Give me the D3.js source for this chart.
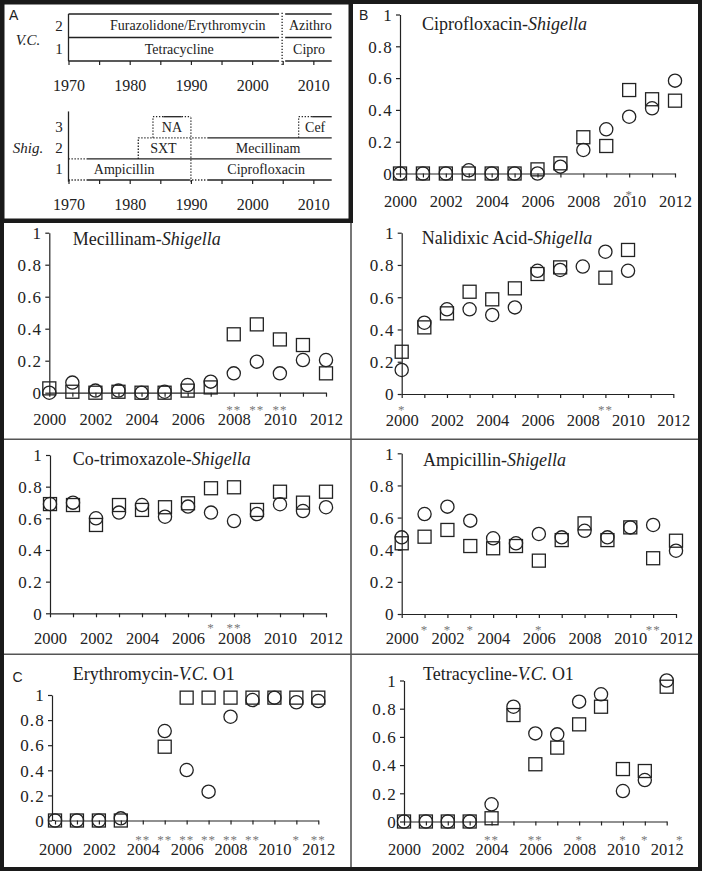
<!DOCTYPE html>
<html>
<head>
  <meta charset="utf-8">
  <script src="https://d3js.org/d3.v7.min.js"></script>
  <style>
    body { margin: 0; background: #fff; }
    svg text { font-family: "Liberation Serif", "Times New Roman", serif; fill: #222; }
    .letter { font-family: "Liberation Sans", Arial, sans-serif !important; font-size: 14px; }
  </style>
</head>
<body>
<svg width="702" height="871"></svg>
<script>
  // ---- data ----
  const years = [2000, 2001, 2002, 2003, 2004, 2005, 2006, 2007, 2008, 2009, 2010, 2011, 2012];
  const yTicks = [0, 0.2, 0.4, 0.6, 0.8, 1];

  // squares / circles per year (null = not plotted)
  const ciproSq = [0, 0, 0, 0, 0, 0, 0.026, 0.064, 0.228, 0.173, 0.525, 0.467, 0.458];
  const ciproCi = [0, 0, 0, 0.02, 0, 0, 0, 0.043, 0.148, 0.278, 0.357, 0.41, 0.584];
  const ciproStars = [[2010, "*"]];

  const mecSq = [0.027, 0.006, 0, 0.006, 0, 0, 0.013, 0.033, 0.365, 0.427, 0.333, 0.298, 0.121];
  const mecCi = [0, 0.063, 0.013, 0.013, 0, 0.006, 0.048, 0.069, 0.121, 0.194, 0.121, 0.204, 0.204];
  const mecStars = [[2008, "**"], [2009, "**"], [2010, "**"]];

  const nalSq = [0.262, 0.413, 0.5, 0.634, 0.587, 0.655, 0.744, 0.785, null, 0.721, 0.893, null, null];
  const nalCi = [0.149, 0.442, 0.525, 0.525, 0.49, 0.537, 0.764, 0.769, 0.79, 0.882, 0.764, null, null];
  const nalStars = [[2000, "*"], [2009, "**"]];

  const cotSq = [0.69, 0.684, 0.558, 0.684, 0.653, 0.67, 0.695, 0.79, 0.796, 0.653, 0.768, 0.699, 0.768];
  const cotCi = [0.69, 0.699, 0.6, 0.636, 0.684, 0.61, 0.674, 0.636, 0.583, 0.627, 0.689, 0.646, 0.67];
  const cotStars = [[2007, "*"], [2008, "**"]];

  const ampSq = [0.44, 0.481, 0.523, 0.423, 0.409, 0.423, 0.332, 0.46, 0.564, 0.46, 0.539, 0.347, 0.456];
  const ampCi = [0.477, 0.622, 0.668, 0.581, 0.471, 0.44, 0.498, 0.477, 0.518, 0.477, 0.539, 0.554, 0.394];
  const ampStars = [[2001, "*"], [2002, "*"], [2003, "*"], [2006, "*"], [2011, "**"]];

  const erySq = [0, 0, 0, 0, null, 0.588, 0.979, 0.979, 0.979, 0.979, 0.979, 0.979, 0.979];
  const eryCi = [0, 0, 0, 0.017, null, 0.713, 0.402, 0.23, 0.827, 0.96, 0.979, 0.942, 0.952];
  const eryStars = [[2004, "**"], [2005, "**"], [2006, "**"], [2007, "**"], [2008, "**"], [2009, "**"], [2011, "*"], [2012, "**"]];

  const tetSq = [0, 0, 0, 0, 0.023, 0.755, 0.406, 0.524, 0.689, 0.814, 0.372, 0.358, 0.956];
  const tetCi = [0, 0, 0, 0, 0.122, 0.814, 0.625, 0.618, 0.85, 0.902, 0.216, 0.294, 1.0];
  const tetStars = [[2004, "**"], [2006, "**"], [2008, "*"], [2010, "*"], [2011, "*"], [2012.6, "*"]];

  // panel A timeline: rows of first-line drugs
  const timeTicks = [1970, 1975, 1980, 1985, 1990, 1995, 2000, 2005, 2010];
  const vcRows = [1, 2];
  const vcDrugs = [
    { label: "Furazolidone/Erythromycin", row: 2, at: 1989.5 },
    { label: "Azithro", row: 2, at: 2009.5 },
    { label: "Tetracycline", row: 1, at: 1988.1 },
    { label: "Cipro", row: 1, at: 2009.3 }
  ];
  // h: horizontal at row boundary, v: vertical at year between boundaries
  const vcLines = [
    ["h", 2, 1970, 2004.4, 0], ["h", 2, 2005.4, 2013, 0],
    ["h", 1, 1970, 2004.4, 0], ["h", 1, 2005.4, 2013, 0],
    ["h", 0, 1970, 2004.4, 0], ["h", 0, 2005.4, 2013, 0],
    ["v", 1970, 0, 2, 0],
    ["v", 2004.9, -0.17, 2.1, 1]
  ];
  const shigRows = [1, 2, 3];
  const shigDrugs = [
    { label: "NA", row: 3, at: 1986.9 },
    { label: "Cef", row: 3, at: 2010.3 },
    { label: "SXT", row: 2, at: 1985.5 },
    { label: "Mecillinam", row: 2, at: 2002.6 },
    { label: "Ampicillin", row: 1, at: 1979.1 },
    { label: "Ciprofloxacin", row: 1, at: 2002.3 }
  ];
  const shigLines = [
    ["h", 0, 1970, 1973, 1], ["h", 0, 1973, 1989.7, 0], ["h", 0, 1989.7, 1992.7, 1], ["h", 0, 1992.7, 2013, 0],
    ["h", 1, 1970, 1973, 1], ["h", 1, 1973, 2013, 0],
    ["h", 2, 1981.4, 1992.7, 1], ["h", 2, 1992.7, 2013, 0],
    ["h", 3, 1983.8, 1985.5, 1], ["h", 3, 1985.5, 1988.5, 0], ["h", 3, 1988.5, 1990, 1],
    ["h", 3, 2007.6, 2009.8, 1], ["h", 3, 2009.8, 2013, 0],
    ["v", 1970, -0.08, 3.25, 0],
    ["v", 1990, -0.08, 3, 1],
    ["v", 1981.4, 1, 2, 1],
    ["v", 1983.8, 2, 3, 1],
    ["v", 2007.6, 2, 3, 1]
  ];

  // ---- layout ----
  const panels = [
    { sq: ciproSq, ci: ciproCi, stars: ciproStars, title: ["Ciprofloxacin-", "Shigella", ""],
      x0: 400, x1: 675, yTop: 14.5, yBot: 173.5, titleX: 422, titleY: 30, labelY: 206.5, starY: 199 },
    { sq: mecSq, ci: mecCi, stars: mecStars, title: ["Mecillinam-", "Shigella", ""],
      x0: 49.3, x1: 326, yTop: 232.7, yBot: 392.7, titleX: 72.7, titleY: 245, labelY: 425, starY: 414 },
    { sq: nalSq, ci: nalCi, stars: nalStars, title: ["Nalidixic Acid-", "Shigella", ""],
      x0: 401.7, x1: 673.3, yTop: 232.7, yBot: 394, titleX: 421.7, titleY: 244, labelY: 426, starY: 413.6 },
    { sq: cotSq, ci: cotCi, stars: cotStars, title: ["Co-trimoxazole-", "Shigella", ""],
      x0: 50, x1: 326, yTop: 455, yBot: 613.3, titleX: 72.7, titleY: 465, labelY: 644, starY: 632 },
    { sq: ampSq, ci: ampCi, stars: ampStars, title: ["Ampicillin-", "Shigella", ""],
      x0: 401.7, x1: 676, yTop: 453.3, yBot: 614, titleX: 423, titleY: 466, labelY: 644, starY: 633.6 },
    { sq: erySq, ci: eryCi, stars: eryStars, title: ["Erythromycin-", "V.C.", " O1"],
      x0: 55, x1: 318.3, axisX: 52, yTop: 695, yBot: 820.5, titleX: 72.7, titleY: 680, labelY: 855, starY: 843.6 },
    { sq: tetSq, ci: tetCi, stars: tetStars, title: ["Tetracycline-", "V.C.", " O1"],
      x0: 404, x1: 666.7, yTop: 680.5, yBot: 821.5, titleX: 423, titleY: 680, labelY: 855, starY: 843.6 }
  ];

  const svg = d3.select("svg");
  const ink = "#222";

  // separators and frames
  svg.append("line").attr("x1", 351).attr("x2", 351).attr("y1", 221).attr("y2", 869)
    .attr("stroke", "#555").attr("stroke-width", 1.6);
  [439.3, 654.3].forEach(y => {
    svg.append("line").attr("x1", 2).attr("x2", 700).attr("y1", y).attr("y2", y)
      .attr("stroke", "#555").attr("stroke-width", 1.6);
  });
  svg.append("rect").attr("x", 2).attr("y", 2).attr("width", 698).attr("height", 867)
    .attr("fill", "none").attr("stroke", "#1a1a1a").attr("stroke-width", 4);
  svg.append("rect").attr("x", 2.25).attr("y", 2.25).attr("width", 348.5).attr("height", 218.5)
    .attr("fill", "none").attr("stroke", "#1a1a1a").attr("stroke-width", 4.5);

  svg.append("text").attr("class", "letter").attr("x", 9).attr("y", 20).text("A");
  svg.append("text").attr("class", "letter").attr("x", 359).attr("y", 19.5).text("B");
  svg.append("text").attr("class", "letter").attr("x", 12.5).attr("y", 681.5).text("C");

  // ---- scatter panels ----
  const tickFont = 16.5;
  panels.forEach(p => {
    const x = d3.scaleLinear().domain([2000, 2012]).range([p.x0, p.x1]);
    const y = d3.scaleLinear().domain([0, 1]).range([p.yBot, p.yTop]);
    const g = svg.append("g");
    const ax = p.axisX || p.x0;

    const xAxis = d3.axisBottom(x).tickValues(years).tickSize(4).tickSizeOuter(0)
      .tickPadding(p.labelY - p.yBot - 4 - 0.71 * tickFont)
      .tickFormat(d => d % 2 === 0 ? d : "");
    const gx = g.append("g").attr("transform", `translate(0,${p.yBot})`).call(xAxis);
    if (ax < p.x0) {
      g.append("line").attr("x1", ax).attr("x2", p.x0).attr("y1", p.yBot).attr("y2", p.yBot)
        .attr("stroke", ink).attr("stroke-width", 1.2);
    }

    const yAxis = d3.axisLeft(y).tickValues(yTicks).tickSize(4).tickSizeOuter(0).tickPadding(3)
      .tickFormat(d => d === 0 ? "0" : d === 1 ? "1" : d.toFixed(1));
    const gy = g.append("g").attr("transform", `translate(${ax},0)`).call(yAxis);

    [gx, gy].forEach(a => {
      a.selectAll("path, line").attr("stroke", ink).attr("stroke-width", 1.2);
      a.selectAll("text").attr("font-family", "Liberation Serif, serif")
        .attr("font-size", tickFont).attr("fill", ink);
    });
    gy.selectAll("text").attr("font-size", 17).attr("letter-spacing", 1.2).attr("dy", "0.34em");

    // title
    const t = g.append("text").attr("x", p.titleX).attr("y", p.titleY).attr("font-size", 18);
    t.append("tspan").text(p.title[0]);
    t.append("tspan").attr("font-style", "italic").text(p.title[1]);
    if (p.title[2]) t.append("tspan").text(p.title[2]);

    // squares then circles
    const sqData = years.map((yr, i) => [yr, p.sq[i]]).filter(d => d[1] != null);
    const ciData = years.map((yr, i) => [yr, p.ci[i]]).filter(d => d[1] != null);
    const side = 13;
    g.selectAll("rect.sq").data(sqData).join("rect").attr("class", "sq")
      .attr("x", d => x(d[0]) - side / 2).attr("y", d => y(d[1]) - side / 2)
      .attr("width", side).attr("height", side)
      .attr("fill", "none").attr("stroke", ink).attr("stroke-width", 1.3);
    g.selectAll("circle.ci").data(ciData).join("circle").attr("class", "ci")
      .attr("cx", d => x(d[0])).attr("cy", d => y(d[1])).attr("r", 6.6)
      .attr("fill", "none").attr("stroke", ink).attr("stroke-width", 1.3);

    // significance stars
    g.selectAll("text.star").data(p.stars).join("text").attr("class", "star")
      .attr("x", d => x(d[0])).attr("y", p.starY).attr("text-anchor", "middle")
      .attr("font-size", 13).attr("letter-spacing", 1).style("fill", "#777")
      .text(d => d[1]);
  });

  // ---- panel A timelines ----
  const xA = d3.scaleLinear().domain([1970, 2013]).range([68.5, 331.7]);
  const sections = [
    { rows: vcRows, drugs: vcDrugs, lines: vcLines, name: "V.C.", y: d3.scaleLinear().domain([0, 2]).range([61, 14]), labelY: 90.7 },
    { rows: shigRows, drugs: shigDrugs, lines: shigLines, name: "Shig.", y: d3.scaleLinear().domain([0, 3]).range([180, 116.7]), labelY: 209.5 }
  ];
  sections.forEach(s => {
    const g = svg.append("g");
    const y0 = s.y(0);
    const axis = d3.axisBottom(xA).tickValues(timeTicks).tickSize(4).tickSizeOuter(0)
      .tickPadding(s.labelY - y0 - 4 - 0.71 * 16)
      .tickFormat(d => d % 10 === 0 ? d : "");
    const ga = g.append("g").attr("transform", `translate(0,${y0})`).call(axis);
    ga.select(".domain").remove();
    ga.selectAll("line").attr("stroke", ink).attr("stroke-width", 1.2);
    ga.selectAll("text").attr("font-family", "Liberation Serif, serif").attr("font-size", 16).attr("fill", ink);

    s.lines.forEach(l => {
      const ln = g.append("line").attr("stroke", ink);
      if (l[0] === "h") {
        ln.attr("x1", xA(l[2])).attr("x2", xA(l[3])).attr("y1", s.y(l[1])).attr("y2", s.y(l[1]));
      } else {
        ln.attr("x1", xA(l[1])).attr("x2", xA(l[1])).attr("y1", s.y(l[2])).attr("y2", s.y(l[3]));
      }
      if (l[4]) ln.attr("stroke-width", 1.3).attr("stroke-dasharray", "1.3,1.7");
      else ln.attr("stroke-width", 1.3);
    });

    g.selectAll("text.row").data(s.rows).join("text").attr("class", "row")
      .attr("x", 59).attr("y", d => s.y(d - 0.5) + 5).attr("text-anchor", "middle")
      .attr("font-size", 15).text(d => d);
    const mid = s.rows.length === 2 ? s.y(0.9) : s.y(1.5);
    g.append("text").attr("x", 28).attr("y", mid + 5).attr("text-anchor", "middle")
      .attr("font-size", 15).attr("font-style", "italic").text(s.name);

    g.selectAll("text.drug").data(s.drugs).join("text").attr("class", "drug")
      .attr("x", d => xA(d.at)).attr("y", d => s.y(d.row - 0.5) + 4.5).attr("text-anchor", "middle")
      .attr("font-size", 14).text(d => d.label);
  });
</script>
</body>
</html>
